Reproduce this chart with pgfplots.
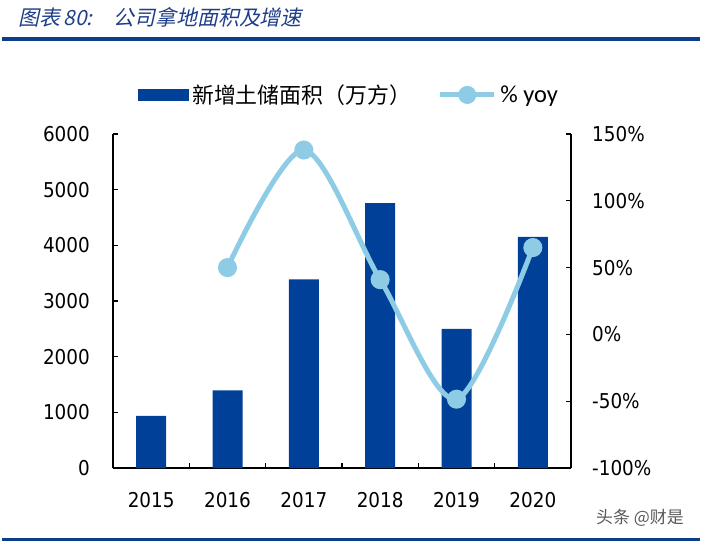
\documentclass[border=0pt]{standalone}
\usepackage{pgfplots}
\pgfplotsset{compat=1.18}
\usepackage{fontspec}
\setmainfont{DejaVu Sans Condensed}
\newfontfamily\cjk{Noto Sans CJK SC}
\newfontfamily\cjkslant[FakeSlant=0.22]{Noto Sans CJK SC}
\newfontfamily\cali{Carlito}
\definecolor{barblue}{RGB}{0,64,152}
\definecolor{lineblue}{RGB}{142,204,229}
\definecolor{titleblue}{RGB}{30,62,138}
\definecolor{ruleblue}{RGB}{12,62,138}

\pgfplotsset{
  common/.style={
    at={(113bp,76bp)}, anchor=south west,
    scale only axis, width=458bp, height=334bp,
    xmin=-0.5, xmax=5.5,
    axis line style={-, line width=1.3bp, black},
    tick style={black, line width=1.2bp},
    major tick length=5bp,
    tick align=inside,
    /pgf/number format/assume math mode=true,
    /pgf/number format/1000 sep={},
    ticklabel style={font=\fontsize{20.5}{24}\selectfont, inner sep=0pt},
  },
}

\begin{document}
\begin{tikzpicture}
\path[use as bounding box] (0bp,0bp) rectangle (702bp,544bp);
% title and rules
\node[anchor=west, text=titleblue, font=\cjkslant\fontsize{21}{24}\selectfont, inner sep=0] at (18bp,527bp) {图表\,80:\quad 公司拿地面积及增速};
\draw[ruleblue, line width=3.5bp] (2bp,505bp) -- (700bp,505bp);
\draw[ruleblue, line width=3bp] (2bp,4.5bp) -- (700bp,4.5bp);
\node[text=gray!70!black, font=\cjk\fontsize{17}{20}\selectfont, inner sep=0] at (640bp,26bp) {头条 @财是};

% bars, left axis
\begin{axis}[
  common,
  ymin=0, ymax=6000,
  axis x line*=bottom, axis y line*=left,
  xtick={0.5,1.5,2.5,3.5,4.5}, xticklabels={},
  extra x ticks={0,1,2,3,4,5},
  extra x tick labels={2015,2016,2017,2018,2019,2020},
  extra x tick style={major tick length=0pt},
  xticklabel style={yshift=-24bp},
  ytick={0,1000,...,6000},
  yticklabel style={xshift=-23bp},
]
\addplot[ybar, bar width=30bp, fill=barblue, draw=none]
  coordinates {(0,935) (1,1395) (2,3390) (3,4760) (4,2500) (5,4150)};
\end{axis}

% growth line, right axis
\begin{axis}[
  common,
  ymin=-100, ymax=150,
  axis x line=none, axis y line*=right,
  ytick={-100,-50,...,150},
  yticklabel={\pgfmathprintnumber{\tick}\%},
  yticklabel style={xshift=21bp},
  legend columns=2,
  legend style={at={(axis description cs:0.0546,1.117)}, anchor=west,
    draw=none, fill=none, inner sep=0pt,
    nodes={inner sep=3.5bp},
    /tikz/every even column/.append style={column sep=23bp}},
]
\addlegendimage{legend image code/.code={\fill[barblue] (0bp,-5.5bp) rectangle (50bp,5.5bp);}}
\addlegendentry{\cjk\fontsize{22}{24}\selectfont 新增土储面积（万方）}
\addplot[lineblue, line width=5bp, smooth, mark=*, mark size=7bp,
  mark options={fill=lineblue, draw=none},
  legend image code/.code={\draw[lineblue, line width=5bp] (0bp,0bp) -- (54bp,0bp);
    \fill[lineblue] (27bp,0bp) circle (6.5bp);}]
  coordinates {(1,50) (2,138) (3,41) (4,-48.5) (5,65)};
\addlegendentry{\cali\fontsize{24.5}{26}\selectfont\% yoy}
\end{axis}
\end{tikzpicture}
\end{document}
